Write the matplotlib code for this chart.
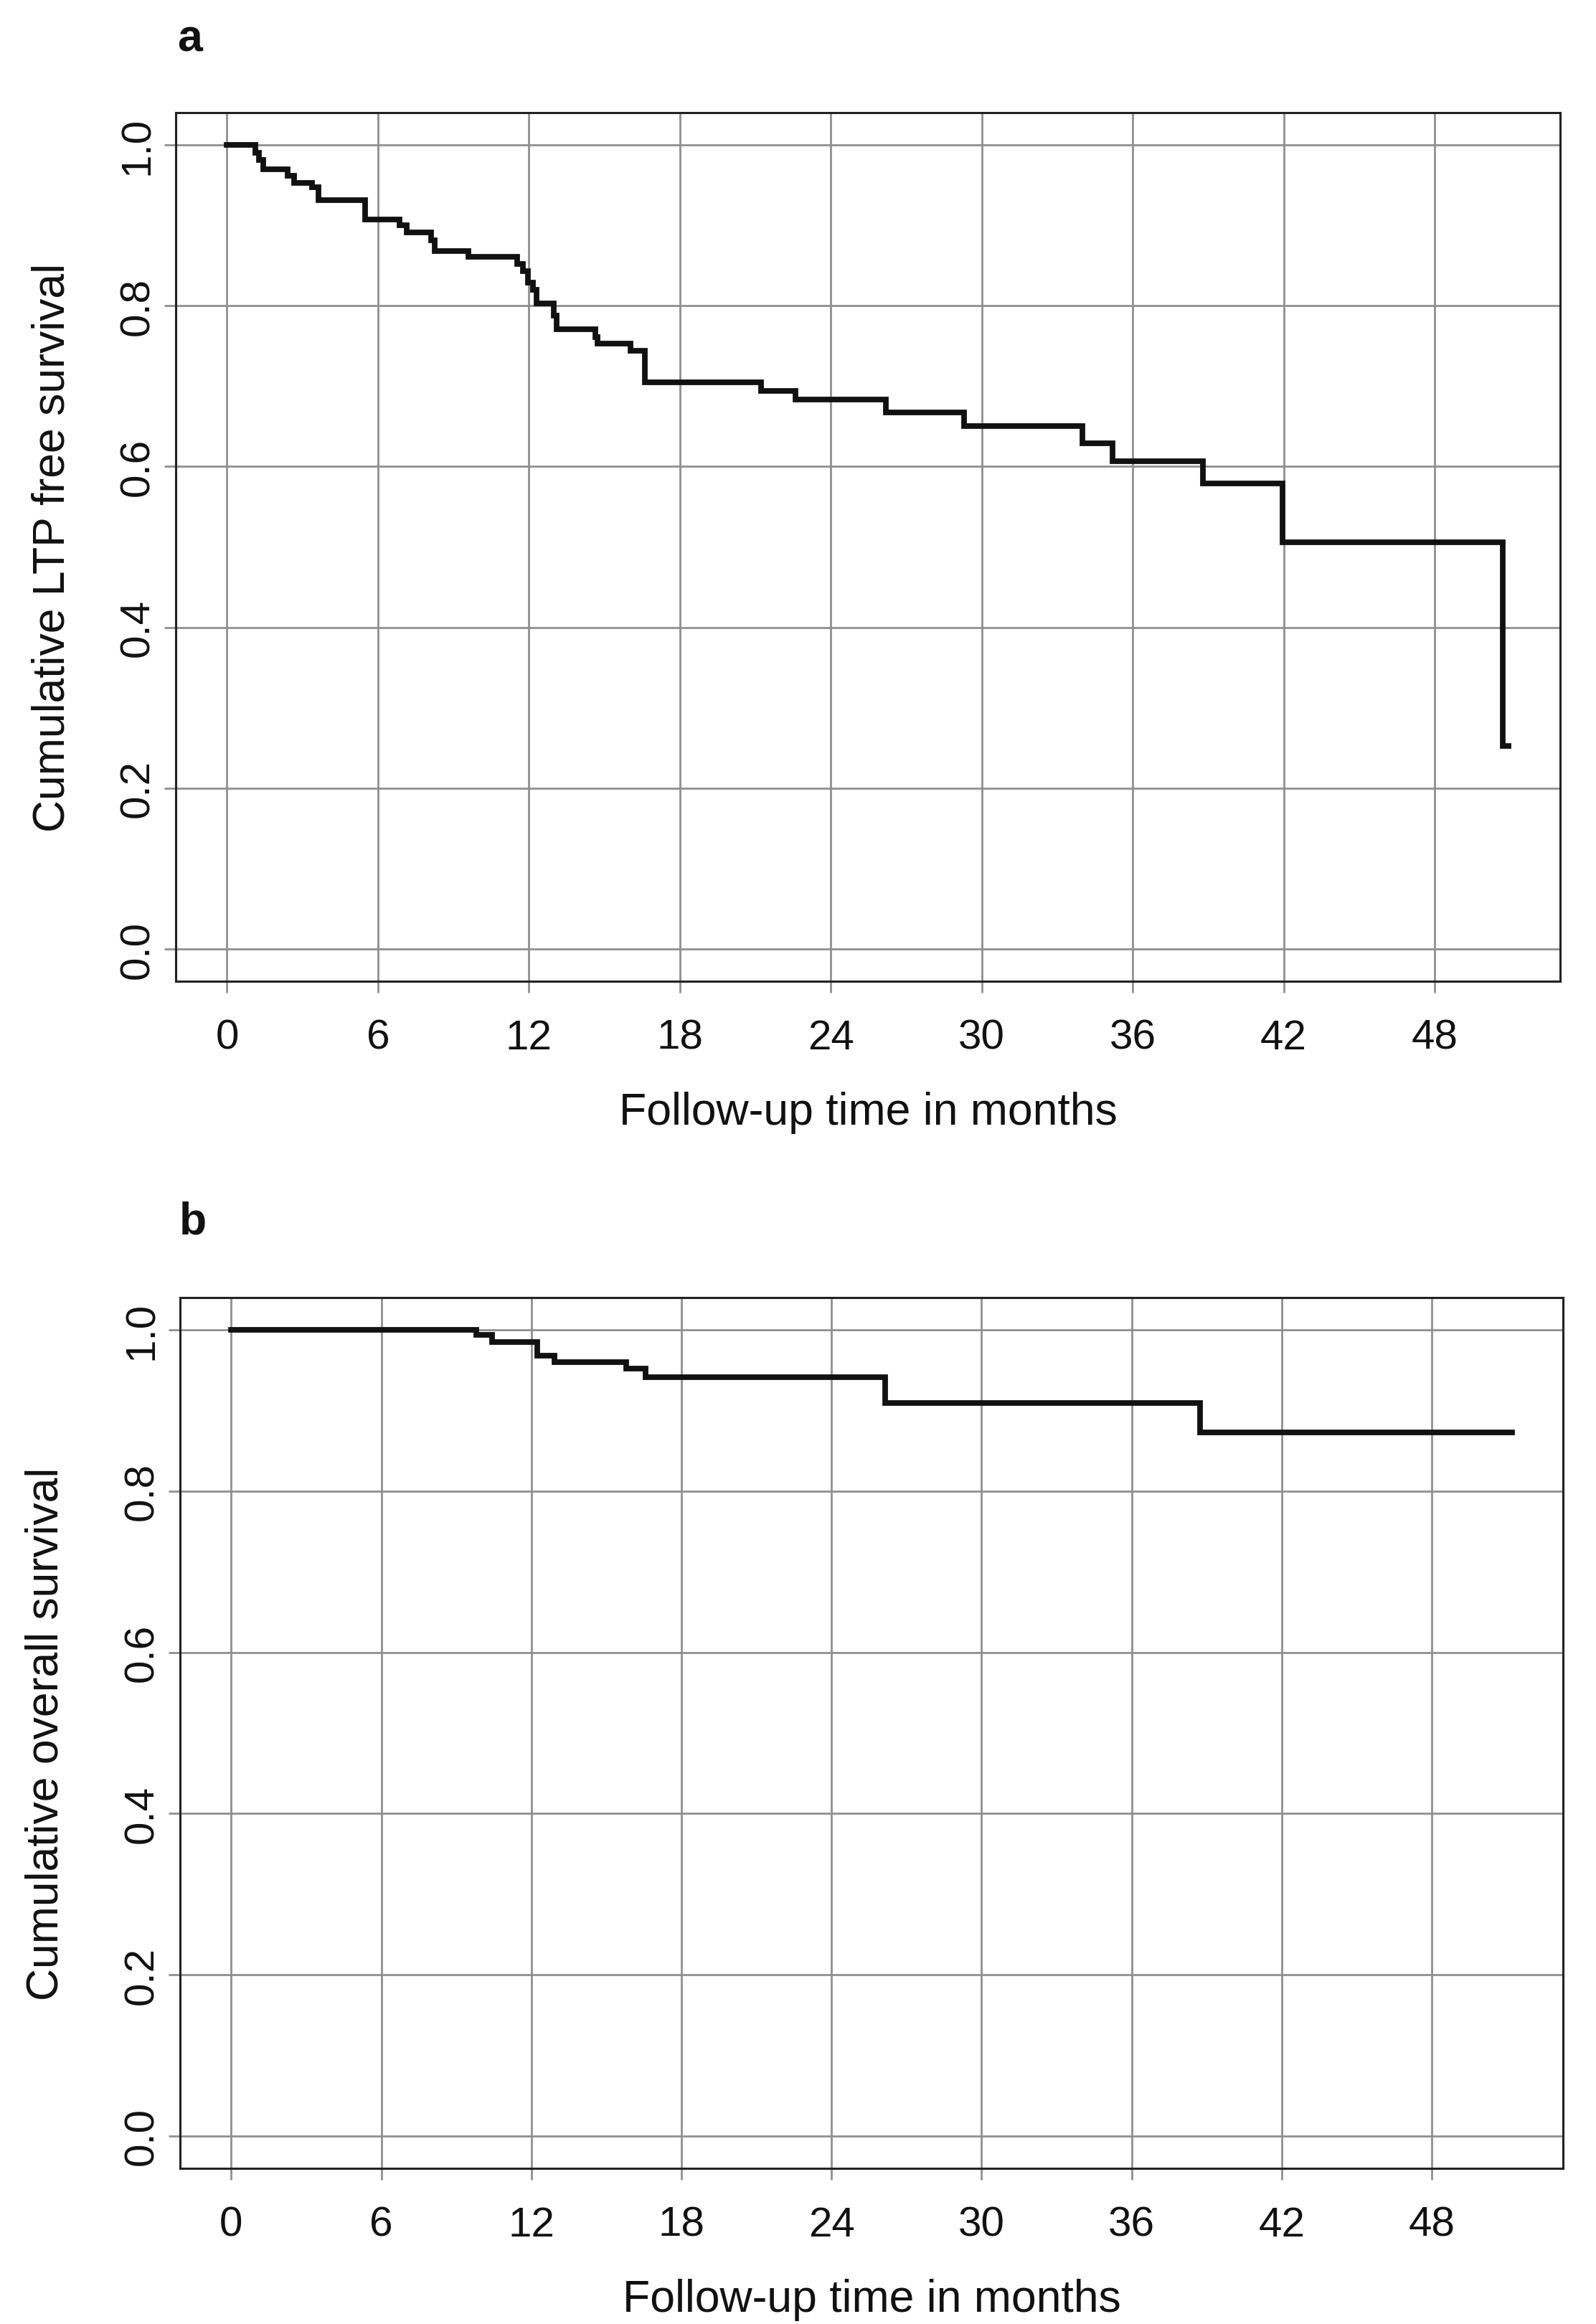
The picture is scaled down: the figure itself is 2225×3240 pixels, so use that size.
import matplotlib
matplotlib.use("Agg")
import matplotlib.pyplot as plt

plt.rcParams['font.family'] = ['Liberation Sans', 'DejaVu Sans']

# panel a: local tumour progression (LTP) free survival, Kaplan-Meier steps
ltp_times = [1.12, 1.28, 1.44, 2.40, 2.66, 3.37, 3.65, 5.49, 6.86, 7.13, 8.10, 8.25,
             9.60, 11.53, 11.75, 11.97, 12.17, 12.30, 13.0, 13.1, 14.63, 14.72, 16.04,
             16.61, 21.23, 22.6, 26.18, 29.3, 34.0, 35.2, 38.8, 41.95, 50.7]
ltp_surv = [0.990, 0.981, 0.970, 0.962, 0.953, 0.947, 0.931, 0.907, 0.900, 0.891, 0.881,
            0.868, 0.861, 0.852, 0.843, 0.829, 0.820, 0.803, 0.788, 0.771, 0.761, 0.753,
            0.744, 0.705, 0.694, 0.683, 0.667, 0.650, 0.629, 0.607, 0.579, 0.506, 0.253]
ltp_end = 50.95

# panel b: overall survival
os_times = [9.81, 10.43, 12.25, 12.92, 15.8, 16.56, 26.16, 38.75]
os_surv = [0.994, 0.985, 0.968, 0.960, 0.952, 0.941, 0.909, 0.873]
os_end = 51.2

x_ticks = [0, 6, 12, 18, 24, 30, 36, 42, 48]
y_ticks = [0.0, 0.2, 0.4, 0.6, 0.8, 1.0]
y_labels = ['Cumulative LTP free survival', 'Cumulative overall survival']
x_label = 'Follow-up time in months'

W, H, DPI = 2225, 3241, 200
fig = plt.figure(figsize=(W / DPI, H / DPI), dpi=DPI)

grid_col = '#8f8f8f'


def km_panel(rect, times, surv, t_end, ylab, ypad, letter, letter_pos):
    ax = fig.add_axes(rect)
    t = [0] + times + [t_end]
    s = [1.0] + surv + [surv[-1]]
    ax.step(t, s, where='post', color='#111111', lw=2.8, zorder=3,
            solid_joinstyle='miter')
    xr = t_end * 0.04
    ax.set_xlim(-xr, t_end + xr)
    ax.set_ylim(-0.04, 1.04)
    ax.set_xticks(x_ticks)
    ax.set_yticks(y_ticks)
    ax.set_yticklabels([f'{v:.1f}' for v in y_ticks], rotation=90, va='center')
    ax.grid(True, color=grid_col, lw=1.0)
    ax.set_axisbelow(True)
    ax.tick_params(axis='both', length=5.8, width=1.0, color=grid_col,
                   labelsize=21, labelcolor='#111111')
    ax.tick_params(axis='x', pad=12.8)
    ax.tick_params(axis='y', pad=3.6)
    for sp in ax.spines.values():
        sp.set_color('#222222')
        sp.set_linewidth(1.1)
    ax.set_xlabel(x_label, fontsize=22.5, labelpad=17, color='#111111')
    ax.set_ylabel(ylab, fontsize=22.5, labelpad=ypad, color='#111111')
    fig.text(letter_pos[0], letter_pos[1], letter, fontsize=22.5,
             fontweight='bold', ha='left', va='baseline', color='#111111')
    return ax


km_panel([0.1101, 0.5776, 0.9775 - 0.1101, 0.9512 - 0.5776],
         ltp_times, ltp_surv, ltp_end, y_labels[0], 22.6, 'a', (0.111, 0.978))
km_panel([0.1128, 0.0670, 0.9793 - 0.1128, 0.4415 - 0.0670],
         os_times, os_surv, os_end, y_labels[1], 27.7, 'b', (0.1125, 0.469))

fig.savefig('out.png', dpi=DPI)
